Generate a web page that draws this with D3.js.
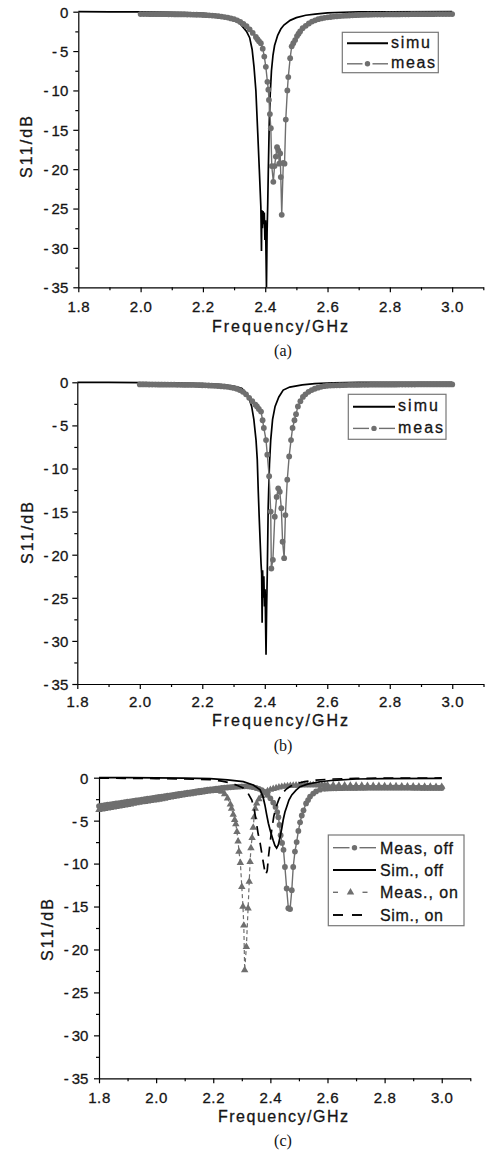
<!DOCTYPE html>
<html><head><meta charset="utf-8">
<script src="https://cdn.jsdelivr.net/npm/d3@7"></script>
<style>body{margin:0;background:#fff}svg{display:block}</style>
</head><body><svg id="c" width="485" height="1154"></svg>
<script>
// ---------- tick labels ----------
const xTicks = [1.8, 2.0, 2.2, 2.4, 2.6, 2.8, 3.0];
const xMinor = [1.9, 2.1, 2.3, 2.5, 2.7, 2.9, 3.1];
const yTicks = [0, -5, -10, -15, -20, -25, -30, -35];
const yMinor = [-2.5, -7.5, -12.5, -17.5, -22.5, -27.5, -32.5];

// ---------- panel (a) ----------
const simuA = [[1.80,0],[1.90,-0.01],[2.00,-0.03],[2.10,-0.08],[2.15,-0.13],[2.20,-0.22],[2.24,-0.38],[2.27,-0.6],[2.30,-1.05],[2.32,-1.55],[2.34,-2.5],[2.35,-3.3],[2.358,-4.8],[2.364,-7.0],[2.370,-10.0],[2.376,-15.4],[2.381,-20.0],[2.386,-24.8],[2.388,-30.4],[2.389,-25.2],[2.391,-27.5],[2.393,-25.3],[2.395,-27.0],[2.397,-25.5],[2.399,-29.0],[2.401,-26.5],[2.404,-35.0],[2.406,-28.0],[2.408,-24.5],[2.410,-20.0],[2.413,-14.0],[2.416,-10.5],[2.420,-7.5],[2.425,-5.5],[2.430,-4.3],[2.44,-3.0],[2.45,-2.2],[2.46,-1.7],[2.48,-1.1],[2.50,-0.75],[2.53,-0.45],[2.56,-0.3],[2.60,-0.15],[2.65,-0.07],[2.70,-0.03],[2.80,-0.01],[3.00,0]];
const measA = [[2.00,-0.30],[2.01,-0.30],[2.02,-0.30],[2.03,-0.31],[2.04,-0.31],[2.05,-0.31],[2.06,-0.32],[2.07,-0.32],[2.08,-0.32],[2.09,-0.33],[2.10,-0.33],[2.11,-0.34],[2.12,-0.34],[2.13,-0.35],[2.14,-0.35],[2.15,-0.36],[2.16,-0.37],[2.17,-0.38],[2.18,-0.39],[2.19,-0.40],[2.20,-0.42],[2.21,-0.44],[2.22,-0.46],[2.23,-0.49],[2.24,-0.53],[2.25,-0.57],[2.26,-0.62],[2.27,-0.68],[2.28,-0.75],[2.29,-0.85],[2.30,-0.95],[2.31,-1.10],[2.32,-1.30],[2.33,-1.55],[2.34,-1.85],[2.35,-2.25],[2.36,-2.70],[2.37,-3.20],[2.375,-3.50],[2.38,-3.75],[2.386,-4.0],[2.392,-4.7],[2.397,-5.7],[2.402,-7.0],[2.407,-8.9],[2.410,-9.9],[2.412,-11.2],[2.415,-13.0],[2.418,-14.8],[2.421,-19.6],[2.426,-21.6],[2.430,-19.6],[2.434,-18.4],[2.438,-17.2],[2.442,-17.6],[2.445,-19.3],[2.448,-18.0],[2.450,-21.0],[2.453,-25.8],[2.458,-19.2],[2.462,-19.3],[2.466,-13.7],[2.471,-10.0],[2.474,-8.3],[2.480,-5.9],[2.485,-4.4],[2.490,-4.0],[2.496,-3.6],[2.502,-3.1],[2.507,-2.8],[2.512,-2.5],[2.52,-2.1],[2.53,-1.8],[2.54,-1.5],[2.55,-1.25],[2.56,-1.10],[2.57,-0.95],[2.58,-0.85],[2.59,-0.78],[2.60,-0.72],[2.61,-0.67],[2.62,-0.62],[2.63,-0.58],[2.64,-0.55],[2.65,-0.52],[2.66,-0.50],[2.67,-0.48],[2.68,-0.46],[2.69,-0.44],[2.70,-0.42],[2.71,-0.41],[2.72,-0.40],[2.73,-0.39],[2.74,-0.38],[2.75,-0.37],[2.76,-0.37],[2.77,-0.36],[2.78,-0.36],[2.79,-0.35],[2.80,-0.35],[2.81,-0.34],[2.82,-0.34],[2.83,-0.34],[2.84,-0.33],[2.85,-0.33],[2.86,-0.33],[2.87,-0.32],[2.88,-0.32],[2.89,-0.32],[2.90,-0.32],[2.91,-0.31],[2.92,-0.31],[2.93,-0.31],[2.94,-0.31],[2.95,-0.30],[2.96,-0.30],[2.97,-0.30],[2.98,-0.30],[2.99,-0.30],[3.00,-0.30]];

// ---------- panel (b) ----------
const simuB = [[1.80,0],[1.90,-0.01],[2.00,-0.03],[2.10,-0.07],[2.20,-0.15],[2.25,-0.25],[2.28,-0.35],[2.30,-0.45],[2.326,-0.7],[2.342,-1.3],[2.35,-1.9],[2.358,-2.8],[2.365,-4.3],[2.372,-6.7],[2.376,-9.0],[2.379,-12.5],[2.382,-15.5],[2.385,-18.3],[2.388,-21.0],[2.390,-22.2],[2.3915,-27.9],[2.393,-21.8],[2.395,-25.0],[2.397,-22.5],[2.399,-26.0],[2.401,-24.0],[2.404,-31.6],[2.406,-26.0],[2.408,-22.2],[2.411,-14.4],[2.415,-9.5],[2.419,-6.7],[2.425,-4.3],[2.433,-2.8],[2.445,-1.7],[2.459,-0.9],[2.48,-0.55],[2.52,-0.3],[2.56,-0.15],[2.62,-0.05],[2.70,0],[3.00,0]];
const measB = [[2.00,-0.25],[2.01,-0.25],[2.02,-0.25],[2.03,-0.26],[2.04,-0.26],[2.05,-0.26],[2.06,-0.27],[2.07,-0.27],[2.08,-0.27],[2.09,-0.28],[2.10,-0.28],[2.11,-0.28],[2.12,-0.29],[2.13,-0.29],[2.14,-0.30],[2.15,-0.30],[2.16,-0.31],[2.17,-0.31],[2.18,-0.32],[2.19,-0.33],[2.20,-0.34],[2.21,-0.35],[2.22,-0.37],[2.23,-0.39],[2.24,-0.41],[2.25,-0.43],[2.26,-0.46],[2.27,-0.49],[2.28,-0.53],[2.29,-0.58],[2.30,-0.65],[2.31,-0.75],[2.32,-0.90],[2.33,-1.10],[2.34,-1.40],[2.35,-1.80],[2.36,-2.20],[2.37,-2.60],[2.375,-2.80],[2.381,-3.10],[2.388,-3.4],[2.393,-4.4],[2.397,-5.3],[2.404,-6.7],[2.408,-8.4],[2.414,-10.9],[2.419,-15.0],[2.421,-21.6],[2.426,-20.6],[2.432,-15.6],[2.438,-13.3],[2.443,-12.3],[2.448,-12.7],[2.453,-14.6],[2.457,-18.5],[2.462,-20.4],[2.466,-15.4],[2.472,-11.3],[2.478,-8.6],[2.484,-6.7],[2.489,-5.3],[2.495,-4.4],[2.500,-3.7],[2.506,-2.8],[2.514,-2.2],[2.522,-1.7],[2.53,-1.4],[2.54,-1.1],[2.55,-0.9],[2.56,-0.75],[2.57,-0.62],[2.58,-0.52],[2.59,-0.45],[2.60,-0.40],[2.61,-0.38],[2.62,-0.36],[2.63,-0.35],[2.64,-0.34],[2.65,-0.33],[2.66,-0.32],[2.67,-0.31],[2.68,-0.31],[2.69,-0.30],[2.70,-0.30],[2.71,-0.29],[2.72,-0.29],[2.73,-0.29],[2.74,-0.28],[2.75,-0.28],[2.76,-0.28],[2.77,-0.28],[2.78,-0.27],[2.79,-0.27],[2.80,-0.27],[2.81,-0.27],[2.82,-0.27],[2.83,-0.26],[2.84,-0.26],[2.85,-0.26],[2.86,-0.26],[2.87,-0.26],[2.88,-0.26],[2.89,-0.25],[2.90,-0.25],[2.91,-0.25],[2.92,-0.25],[2.93,-0.25],[2.94,-0.25],[2.95,-0.25],[2.96,-0.25],[2.97,-0.25],[2.98,-0.25],[2.99,-0.25],[3.00,-0.25]];

// ---------- panel (c) ----------
const measOffC = [[1.80,-3.30],[1.81,-3.25],[1.82,-3.20],[1.83,-3.15],[1.84,-3.10],[1.85,-3.05],[1.86,-3.00],[1.87,-2.95],[1.88,-2.90],[1.89,-2.85],[1.90,-2.80],[1.91,-2.75],[1.92,-2.70],[1.93,-2.65],[1.94,-2.60],[1.95,-2.55],[1.96,-2.50],[1.97,-2.45],[1.98,-2.40],[1.99,-2.35],[2.00,-2.30],[2.01,-2.25],[2.02,-2.20],[2.03,-2.15],[2.04,-2.10],[2.05,-2.05],[2.06,-2.00],[2.07,-1.95],[2.08,-1.90],[2.09,-1.85],[2.10,-1.80],[2.11,-1.75],[2.12,-1.70],[2.13,-1.65],[2.14,-1.60],[2.15,-1.55],[2.16,-1.50],[2.17,-1.45],[2.18,-1.40],[2.19,-1.36],[2.20,-1.32],[2.21,-1.28],[2.22,-1.24],[2.23,-1.20],[2.24,-1.17],[2.25,-1.14],[2.26,-1.11],[2.27,-1.08],[2.28,-1.06],[2.29,-1.04],[2.30,-1.02],[2.31,-1.00],[2.32,-1.00],[2.33,-1.05],[2.34,-1.10],[2.35,-1.20],[2.36,-1.30],[2.37,-1.45],[2.38,-1.65],[2.39,-2.00],[2.40,-2.40],[2.41,-2.90],[2.418,-3.4],[2.424,-4.0],[2.428,-4.6],[2.432,-5.5],[2.436,-6.7],[2.441,-7.6],[2.446,-8.4],[2.451,-10.4],[2.457,-12.9],[2.463,-15.2],[2.469,-15.3],[2.475,-13.1],[2.480,-10.4],[2.486,-8.6],[2.492,-7.5],[2.498,-6.2],[2.504,-5.2],[2.510,-4.4],[2.516,-3.8],[2.525,-3.0],[2.532,-2.6],[2.539,-2.2],[2.55,-1.85],[2.56,-1.6],[2.574,-1.4],[2.59,-1.30],[2.60,-1.27],[2.61,-1.25],[2.62,-1.24],[2.63,-1.23],[2.64,-1.22],[2.65,-1.22],[2.66,-1.21],[2.67,-1.21],[2.68,-1.20],[2.69,-1.20],[2.70,-1.20],[2.71,-1.19],[2.72,-1.19],[2.73,-1.19],[2.74,-1.18],[2.75,-1.18],[2.76,-1.18],[2.77,-1.18],[2.78,-1.17],[2.79,-1.17],[2.80,-1.17],[2.81,-1.17],[2.82,-1.17],[2.83,-1.17],[2.84,-1.17],[2.85,-1.17],[2.86,-1.18],[2.87,-1.18],[2.88,-1.18],[2.89,-1.18],[2.90,-1.19],[2.91,-1.19],[2.92,-1.19],[2.93,-1.20],[2.94,-1.20],[2.95,-1.20],[2.96,-1.20],[2.97,-1.20],[2.98,-1.20],[2.99,-1.20],[3.00,-1.20]];
const simOffC = [[1.80,0],[1.90,0],[2.00,-0.02],[2.10,-0.05],[2.189,-0.1],[2.25,-0.25],[2.305,-0.46],[2.34,-0.85],[2.364,-1.4],[2.374,-2.2],[2.381,-3.2],[2.387,-4.3],[2.393,-5.3],[2.40,-6.2],[2.41,-7.3],[2.416,-7.9],[2.422,-8.2],[2.428,-7.8],[2.434,-6.9],[2.44,-5.9],[2.445,-4.9],[2.451,-4.0],[2.457,-3.4],[2.465,-2.6],[2.475,-2.0],[2.49,-1.45],[2.504,-1.05],[2.53,-0.75],[2.574,-0.47],[2.62,-0.3],[2.70,-0.15],[2.80,-0.1],[3.00,-0.08]];
const measOnC = [[1.80,-3.75],[1.81,-3.69],[1.82,-3.63],[1.83,-3.57],[1.84,-3.51],[1.85,-3.45],[1.86,-3.39],[1.87,-3.33],[1.88,-3.27],[1.89,-3.21],[1.90,-3.15],[1.91,-3.09],[1.92,-3.03],[1.93,-2.97],[1.94,-2.91],[1.95,-2.85],[1.96,-2.80],[1.97,-2.75],[1.98,-2.70],[1.99,-2.65],[2.00,-2.60],[2.01,-2.54],[2.02,-2.48],[2.03,-2.42],[2.04,-2.36],[2.05,-2.30],[2.06,-2.24],[2.07,-2.18],[2.08,-2.12],[2.09,-2.06],[2.10,-2.00],[2.11,-1.95],[2.12,-1.90],[2.13,-1.85],[2.14,-1.80],[2.15,-1.75],[2.16,-1.70],[2.17,-1.65],[2.18,-1.60],[2.19,-1.55],[2.20,-1.52],[2.21,-1.50],[2.22,-1.52],[2.23,-1.62],[2.24,-1.90],[2.25,-2.40],[2.26,-3.10],[2.264,-3.6],[2.270,-4.3],[2.275,-4.9],[2.279,-5.4],[2.283,-6.3],[2.287,-7.4],[2.290,-8.6],[2.295,-9.9],[2.300,-12.7],[2.304,-15.0],[2.307,-17.2],[2.310,-22.4],[2.316,-19.7],[2.322,-15.2],[2.326,-12.1],[2.329,-9.8],[2.332,-8.2],[2.336,-7.0],[2.340,-5.8],[2.343,-4.6],[2.347,-3.6],[2.352,-3.0],[2.36,-2.5],[2.37,-2.1],[2.38,-1.8],[2.39,-1.55],[2.40,-1.40],[2.41,-1.30],[2.42,-1.20],[2.43,-1.12],[2.44,-1.05],[2.45,-1.00],[2.46,-0.96],[2.47,-0.93],[2.48,-0.91],[2.49,-0.89],[2.50,-0.88],[2.51,-0.87],[2.52,-0.86],[2.53,-0.86],[2.54,-0.85],[2.55,-0.85],[2.56,-0.85],[2.57,-0.85],[2.58,-0.85],[2.59,-0.86],[2.60,-0.86],[2.62,-0.87],[2.64,-0.88],[2.66,-0.89],[2.68,-0.90],[2.70,-0.91],[2.72,-0.92],[2.74,-0.93],[2.76,-0.94],[2.78,-0.95],[2.80,-0.96],[2.82,-0.97],[2.84,-0.98],[2.86,-0.99],[2.88,-1.00],[2.90,-1.01],[2.92,-1.02],[2.94,-1.03],[2.96,-1.04],[2.98,-1.05],[3.00,-1.05]];
const simOnC = [[1.80,-0.05],[1.90,-0.07],[2.00,-0.10],[2.10,-0.15],[2.189,-0.22],[2.23,-0.4],[2.259,-0.6],[2.285,-0.9],[2.305,-1.2],[2.32,-1.7],[2.335,-2.6],[2.343,-3.6],[2.350,-5.0],[2.357,-6.5],[2.364,-7.6],[2.370,-8.8],[2.375,-9.8],[2.380,-10.8],[2.384,-11.3],[2.389,-10.8],[2.394,-9.0],[2.399,-7.6],[2.405,-6.0],[2.412,-4.5],[2.42,-3.4],[2.43,-2.5],[2.44,-1.9],[2.455,-1.35],[2.47,-1.0],[2.49,-0.7],[2.52,-0.45],[2.56,-0.28],[2.62,-0.15],[2.70,-0.08],[2.80,-0.05],[3.00,-0.03]];

// ---------- legend labels ----------
const legendA = ["simu", "meas"];
const legendC = ["Meas, off", "Sim., off", "Meas., on", "Sim., on"];
const axisTitleX = "Frequency/GHz";
const axisTitleY = "S11/dB";

// ---------- layout (positions / styles) ----------
const GRAY = "#6f6f6f";
const INK = "#151515";
const FONT = "'Liberation Sans', Arial, Helvetica, sans-serif";
const panels = [
  { cap: "(a)", px: [78.3, 483.3], py: [11.7, 287.3], tickBase: 312.3, yLabR: 68.3,
    xt: [280, 331.5, 136], yt: [31.5, 147], capPos: [283, 356],
    series: [{ d: simuA, t: "simSolid" }, { d: measA, t: "measCircle" }],
    legend: { box: [342.3, 32.3, 96, 40.4], sx: [347, 388], tx: 391, tw: [39, 44], rows: [43.3, 63.8],
      items: [{ t: "simSolid", l: legendA[0] }, { t: "measCircle", l: legendA[1] }] } },
  { cap: "(b)", px: [77.3, 483.5], py: [382.3, 684], tickBase: 706.7, yLabR: 68.3,
    xt: [280, 726, 136], yt: [32.5, 533], capPos: [283, 751],
    series: [{ d: simuB, t: "simSolid" }, { d: measB, t: "measCircle" }],
    legend: { box: [348.3, 394.3, 97.7, 45], sx: [353, 395], tx: 398, tw: [40, 45], rows: [406.8, 428.4],
      items: [{ t: "simSolid", l: legendA[0] }, { t: "measCircle", l: legendA[1] }] } },
  { cap: "(c)", px: [99, 470.3], py: [777.7, 1078.3], tickBase: 1103, yLabR: 88.3,
    xt: [283, 1121.8, 130], yt: [53, 930], capPos: [283, 1146],
    series: [{ d: measOffC, t: "measCircle" }, { d: measOnC, t: "measTri" }, { d: simOffC, t: "simSolid" }, { d: simOnC, t: "simDash" }],
    legend: { box: [328.3, 835, 135.7, 90.7], sx: [333, 376], tx: 380, tw: [73, 63, 78, 63], rows: [847.7, 870, 892.3, 915],
      items: [{ t: "measCircle", l: legendC[0] }, { t: "simSolid", l: legendC[1] }, { t: "measTri", l: legendC[2] }, { t: "simDash", l: legendC[3] }] } }
];

const svg = d3.select("#c");
svg.append("rect").attr("width", 485).attr("height", 1154).attr("fill", "#fff");
const tri = d3.symbol().type(d3.symbolTriangle).size(24);

function fixMinus(sel) {
  sel.each(function () {
    const t = d3.select(this); const s = t.text();
    if (s.startsWith("-")) {
      t.text(""); t.append("tspan").text("-"); t.append("tspan").attr("dx", 3).text(s.slice(1));
    }
  });
}
function ink(sel, size) {
  sel.attr("font-family", FONT).attr("font-size", size).attr("fill", INK)
    .attr("stroke", INK).attr("stroke-width", 0.3);
}

panels.forEach(p => {
  const x = d3.scaleLinear().domain([1.8, 3.1]).range(p.px);
  const y = d3.scaleLinear().domain([0, -35]).range(p.py);
  const g = svg.append("g");
  const line = d3.line().x(d => x(d[0])).y(d => y(d[1]));

  // axes
  const gx = g.append("g").attr("transform", `translate(0,${p.py[1]})`)
    .call(d3.axisBottom(x).tickValues(xTicks).tickSize(5).tickSizeOuter(0).tickFormat(d3.format(".1f")));
  g.append("g").attr("transform", `translate(0,${p.py[1]})`)
    .call(d3.axisBottom(x).tickValues(xMinor).tickSize(3).tickSizeOuter(0).tickFormat(""))
    .select(".domain").remove();
  const gy = g.append("g").attr("transform", `translate(${p.px[0]},0)`)
    .call(d3.axisLeft(y).tickValues(yTicks).tickSize(5).tickSizeOuter(0).tickFormat(d => String(d)));
  g.append("g").attr("transform", `translate(${p.px[0]},0)`)
    .call(d3.axisLeft(y).tickValues(yMinor).tickSize(3).tickSizeOuter(0).tickFormat(""))
    .select(".domain").remove();
  g.selectAll(".domain, .tick line").attr("stroke", "#000").attr("stroke-width", 1.2);
  gx.selectAll(".tick text").attr("y", null).attr("dy", null)
    .attr("transform", `translate(0,${p.tickBase - p.py[1]})`).call(ink, 15).attr("letter-spacing", 0.6);
  gy.selectAll(".tick text").attr("x", -(p.px[0] - p.yLabR)).attr("dy", "0.36em")
    .call(ink, 15).call(fixMinus);

  // series
  p.series.forEach(s => {
    if (s.t === "simSolid") {
      g.append("path").datum(s.d).attr("d", line).attr("fill", "none").attr("stroke", "#000").attr("stroke-width", 1.7);
    } else if (s.t === "simDash") {
      g.append("path").datum(s.d).attr("d", line).attr("fill", "none").attr("stroke", "#000").attr("stroke-width", 1.7).attr("stroke-dasharray", "10,7");
    } else if (s.t === "measCircle") {
      g.append("path").datum(s.d).attr("d", line).attr("fill", "none").attr("stroke", GRAY).attr("stroke-width", 1.4);
      g.append("g").selectAll("circle").data(s.d).join("circle")
        .attr("cx", d => x(d[0])).attr("cy", d => y(d[1])).attr("r", 2.9).attr("fill", GRAY);
    } else if (s.t === "measTri") {
      g.append("path").datum(s.d).attr("d", line).attr("fill", "none").attr("stroke", GRAY).attr("stroke-width", 1.2).attr("stroke-dasharray", "4,3");
      g.append("g").selectAll("path").data(s.d).join("path")
        .attr("d", tri).attr("transform", d => `translate(${x(d[0])},${y(d[1])})`).attr("fill", GRAY);
    }
  });

  // axis titles
  g.append("text").attr("x", p.xt[0]).attr("y", p.xt[1]).attr("text-anchor", "middle").call(ink, 16)
    .attr("textLength", p.xt[2]).attr("lengthAdjust", "spacing").text(axisTitleX);
  g.append("text").attr("transform", `translate(${p.yt[0]},${p.yt[1]}) rotate(-90)`).attr("text-anchor", "middle")
    .call(ink, 16).attr("textLength", 62).attr("lengthAdjust", "spacing").text(axisTitleY);
  g.append("text").attr("x", p.capPos[0]).attr("y", p.capPos[1]).attr("text-anchor", "middle")
    .attr("font-family", "'Liberation Serif', 'Times New Roman', serif").attr("font-size", 16).attr("fill", "#111").text(p.cap);

  // legend
  const L = p.legend;
  g.append("rect").attr("x", L.box[0]).attr("y", L.box[1]).attr("width", L.box[2]).attr("height", L.box[3])
    .attr("fill", "#fff").attr("stroke", "#777").attr("stroke-width", 1.2);
  L.items.forEach((it, i) => {
    const cy = L.rows[i], x0 = L.sx[0], x1 = L.sx[1], xc = (x0 + x1) / 2;
    if (it.t === "simSolid") {
      g.append("line").attr("x1", x0).attr("x2", x1).attr("y1", cy).attr("y2", cy).attr("stroke", "#000").attr("stroke-width", 1.9);
    } else if (it.t === "measCircle") {
      [[x0, xc - 5], [xc + 5, x1]].forEach(s => g.append("line").attr("x1", s[0]).attr("x2", s[1]).attr("y1", cy).attr("y2", cy).attr("stroke", GRAY).attr("stroke-width", 1.4));
      g.append("circle").attr("cx", xc).attr("cy", cy).attr("r", 2.7).attr("fill", GRAY);
    } else if (it.t === "measTri") {
      [[x0, x0 + 5], [xc + 8, xc + 13]].forEach(s => g.append("line").attr("x1", s[0]).attr("x2", s[1]).attr("y1", cy).attr("y2", cy).attr("stroke", GRAY).attr("stroke-width", 1.4));
      g.append("path").attr("d", tri).attr("transform", `translate(${xc - 4},${cy})`).attr("fill", GRAY);
    } else if (it.t === "simDash") {
      [[x0, x0 + 10], [x0 + 19, x0 + 29]].forEach(s => g.append("line").attr("x1", s[0]).attr("x2", s[1]).attr("y1", cy).attr("y2", cy).attr("stroke", "#000").attr("stroke-width", 1.9));
    }
    const capital = /[A-Z]/.test(it.l[0]);
    g.append("text").attr("x", L.tx).attr("y", cy + (capital ? 5.8 : 4.5)).call(ink, 16)
      .attr("textLength", L.tw[i]).attr("lengthAdjust", "spacing").text(it.l);
  });
});
</script>
</body></html>
